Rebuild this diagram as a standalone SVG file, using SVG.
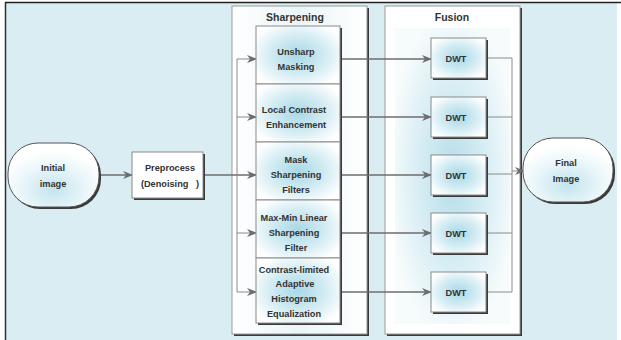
<svg xmlns="http://www.w3.org/2000/svg" width="621" height="340" viewBox="0 0 621 340">
  <defs>
    <radialGradient id="boxg" cx="0.5" cy="0.5" r="0.6">
      <stop offset="0" stop-color="#a9d8e6"/>
      <stop offset="0.55" stop-color="#d3ecf3"/>
      <stop offset="1" stop-color="#ffffff"/>
    </radialGradient>
    <radialGradient id="ovalg" cx="0.5" cy="0.72" r="0.6">
      <stop offset="0" stop-color="#c2e4ee"/>
      <stop offset="0.6" stop-color="#eaf6f9"/>
      <stop offset="1" stop-color="#ffffff"/>
    </radialGradient>
    <radialGradient id="fusg" cx="0.5" cy="0.5" r="0.55">
      <stop offset="0" stop-color="#b5dde9"/>
      <stop offset="0.6" stop-color="#dbeff5"/>
      <stop offset="1" stop-color="#f6fbfc"/>
    </radialGradient>
    <linearGradient id="sharpg" x1="0" y1="0" x2="1" y2="0">
      <stop offset="0" stop-color="#ffffff"/>
      <stop offset="0.5" stop-color="#eaf5f8"/>
      <stop offset="1" stop-color="#ffffff"/>
    </linearGradient>
    <marker id="ah" viewBox="0 0 10 8" refX="9" refY="4" markerWidth="10" markerHeight="8" markerUnits="userSpaceOnUse" orient="auto">
      <path d="M0,0 L10,4 L0,8 L3,4 z" fill="#6d6d6d"/>
    </marker>
  </defs>
  <style>
    .t { font-family: "Liberation Sans", Arial, sans-serif; font-weight: bold; font-size: 9.2px; fill: #333; text-anchor: middle; }
    .title { font-family: "Liberation Sans", Arial, sans-serif; font-weight: bold; font-size: 10.5px; fill: #333; text-anchor: middle; }
    .box { fill: url(#boxg); stroke: #8a8a8a; stroke-width: 1; }
    .shadow { fill: #3a3a3a; }
    .oval { fill: url(#ovalg); stroke: #555; stroke-width: 1; }
    .cont { stroke: #999; stroke-width: 1; }
    .conn { fill: none; stroke: #6d6d6d; stroke-width: 1.6; }
    .thin { fill: none; stroke: #8a8a8a; stroke-width: 1; }
  </style>

  <!-- background -->
  <rect x="0" y="0" width="621" height="340" fill="#ffffff"/>
  <rect x="5" y="2" width="612" height="338" fill="#daedf3"/>
  <line x1="5.5" y1="2" x2="5.5" y2="340" stroke="#333" stroke-width="1.5"/>
  <line x1="5" y1="2.5" x2="621" y2="2.5" stroke="#222" stroke-width="1.5"/>

  <!-- containers -->
  <g id="sharpening">
    <rect x="234" y="8" width="135" height="328" class="shadow"/>
    <rect x="232" y="6" width="135" height="328" fill="url(#sharpg)" class="cont"/>
    <text x="295" y="21" class="title">Sharpening</text>
  </g>
  <g id="fusion">
    <rect x="387" y="8" width="135" height="328" class="shadow"/>
    <rect x="385" y="6" width="135" height="328" fill="#ffffff" class="cont"/>
    <rect x="395" y="28" width="115" height="296" fill="url(#fusg)"/>
    <text x="452" y="21" class="title">Fusion</text>
  </g>

  <!-- connectors -->
  <g id="connectors">
    <line x1="99" y1="175" x2="132" y2="175" class="conn" marker-end="url(#ah)"/>
    <line x1="203" y1="175" x2="256" y2="175" class="conn" marker-end="url(#ah)"/>
    <polyline points="237,59 237,292" class="thin" stroke="#7a7a7a"/>
    <line x1="237" y1="59" x2="256" y2="59" class="thin" marker-end="url(#ah)"/>
    <line x1="237" y1="117" x2="256" y2="117" class="thin" marker-end="url(#ah)"/>
    <line x1="237" y1="233" x2="256" y2="233" class="thin" marker-end="url(#ah)"/>
    <line x1="237" y1="292" x2="256" y2="292" class="thin" marker-end="url(#ah)"/>

    <line x1="342" y1="59" x2="431" y2="59" class="conn" marker-end="url(#ah)"/>
    <line x1="342" y1="117" x2="431" y2="117" class="conn" marker-end="url(#ah)"/>
    <line x1="342" y1="175" x2="431" y2="175" class="conn" marker-end="url(#ah)"/>
    <line x1="342" y1="233" x2="431" y2="233" class="conn" marker-end="url(#ah)"/>
    <line x1="342" y1="292" x2="431" y2="292" class="conn" marker-end="url(#ah)"/>

    <line x1="487" y1="58" x2="512" y2="58" class="thin"/>
    <line x1="487" y1="117" x2="512" y2="117" class="thin"/>
    <line x1="487" y1="174" x2="512" y2="174" class="thin"/>
    <line x1="487" y1="233" x2="512" y2="233" class="thin"/>
    <line x1="487" y1="292" x2="512" y2="292" class="thin"/>
    <line x1="512" y1="58" x2="512" y2="292" class="thin"/>
    <line x1="512" y1="171" x2="524" y2="171" class="thin" marker-end="url(#ah)"/>
  </g>

  <!-- nodes -->
  <g id="initial">
    <rect x="10" y="145" width="91" height="64" rx="30" ry="30" class="shadow"/>
    <rect x="8" y="143" width="91" height="64" rx="30" ry="30" class="oval"/>
    <text x="53" y="171" class="t">Initial</text>
    <text x="53" y="187" class="t">image</text>
  </g>
  <g id="preprocess">
    <rect x="134" y="154" width="71" height="46" class="shadow"/>
    <rect x="132" y="152" width="71" height="46" fill="#ffffff" stroke="#8a8a8a"/>
    <text x="170" y="171" class="t">Preprocess</text>
    <text x="170" y="187" class="t">(Denoising&#160;&#160;&#160;)</text>
  </g>

  <g id="unsharp">
    <rect x="258" y="28" width="84" height="58" class="shadow"/>
    <rect x="256" y="26" width="84" height="58" class="box"/>
    <text x="296" y="55" class="t">Unsharp</text>
    <text x="296" y="70" class="t">Masking</text>
  </g>
  <g id="localcontrast">
    <rect x="258" y="86" width="84" height="58" class="shadow"/>
    <rect x="256" y="84" width="84" height="58" class="box"/>
    <text x="294" y="113" class="t">Local Contrast</text>
    <text x="296" y="128" class="t">Enhancement</text>
  </g>
  <g id="mask">
    <rect x="258" y="144" width="84" height="58" class="shadow"/>
    <rect x="256" y="142" width="84" height="58" class="box"/>
    <text x="296" y="163" class="t">Mask</text>
    <text x="296" y="178" class="t">Sharpening</text>
    <text x="296" y="193" class="t">Filters</text>
  </g>
  <g id="maxmin">
    <rect x="258" y="202" width="84" height="58" class="shadow"/>
    <rect x="256" y="200" width="84" height="58" class="box"/>
    <text x="294" y="221" class="t">Max-Min Linear</text>
    <text x="294" y="236" class="t">Sharpening</text>
    <text x="296" y="251" class="t">Filter</text>
  </g>
  <g id="clahe">
    <rect x="258" y="260" width="84" height="65" class="shadow"/>
    <rect x="256" y="258" width="84" height="65" class="box"/>
    <text x="294" y="273" class="t">Contrast-limited</text>
    <text x="295" y="287" class="t">Adaptive</text>
    <text x="294" y="302" class="t">Histogram</text>
    <text x="294" y="317" class="t">Equalization</text>
  </g>

  <g id="dwt1">
    <rect x="433" y="40" width="55" height="40" class="shadow"/>
    <rect x="431" y="38" width="55" height="40" class="box"/>
    <text x="456" y="62" class="t">DWT</text>
  </g>
  <g id="dwt2">
    <rect x="433" y="99" width="55" height="40" class="shadow"/>
    <rect x="431" y="97" width="55" height="40" class="box"/>
    <text x="456" y="121" class="t">DWT</text>
  </g>
  <g id="dwt3">
    <rect x="433" y="157" width="55" height="40" class="shadow"/>
    <rect x="431" y="155" width="55" height="40" class="box"/>
    <text x="456" y="179" class="t">DWT</text>
  </g>
  <g id="dwt4">
    <rect x="433" y="215" width="55" height="40" class="shadow"/>
    <rect x="431" y="213" width="55" height="40" class="box"/>
    <text x="456" y="237" class="t">DWT</text>
  </g>
  <g id="dwt5">
    <rect x="433" y="274" width="55" height="40" class="shadow"/>
    <rect x="431" y="272" width="55" height="40" class="box"/>
    <text x="456" y="296" class="t">DWT</text>
  </g>

  <g id="final">
    <rect x="525" y="140" width="90" height="64" rx="30" ry="30" class="shadow"/>
    <rect x="523" y="138" width="90" height="64" rx="30" ry="30" class="oval"/>
    <text x="566" y="166" class="t">Final</text>
    <text x="566" y="182" class="t">Image</text>
  </g>
</svg>
